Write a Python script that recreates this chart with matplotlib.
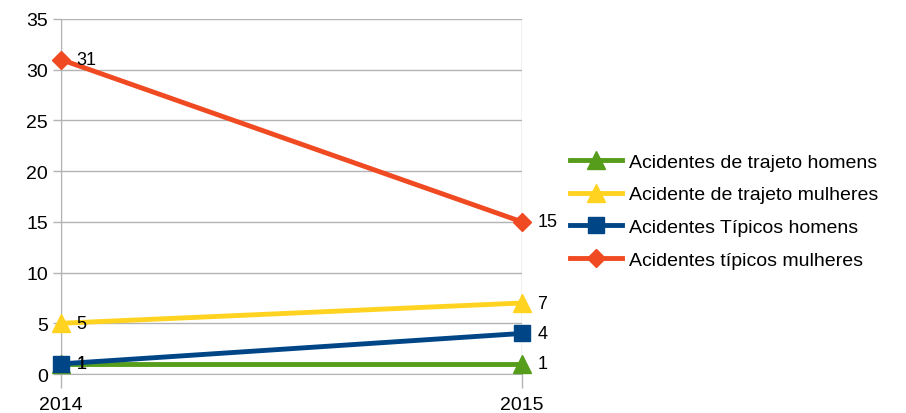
import matplotlib.pyplot as plt

years = ['2014', '2015']
trajeto_homens = [1, 1]
trajeto_mulheres = [5, 7]
tipicos_homens = [1, 4]
tipicos_mulheres = [31, 15]

series = [
    ('Acidentes de trajeto homens', trajeto_homens, '#579d1c', '^', 13),
    ('Acidente de trajeto mulheres', trajeto_mulheres, '#ffd320', '^', 13),
    ('Acidentes Típicos homens', tipicos_homens, '#004586', 's', 12),
    ('Acidentes típicos mulheres', tipicos_mulheres, '#f04a22', 'D', 9),
]

plt.rcParams['font.family'] = ['Liberation Sans', 'DejaVu Sans']

fig = plt.figure(figsize=(9.06, 4.14), dpi=100)
ax = fig.add_axes([0.0673, 0.0942, 0.5088, 0.8575])

x = list(range(len(years)))
for name, vals, col, mk, ms in series:
    ax.plot(x, vals, color=col, lw=3.5, marker=mk, markersize=ms, label=name,
            clip_on=False, zorder=3)
    for xi, v in zip(x, vals):
        ax.annotate(str(v), (xi, v), xytext=(11, 0), textcoords='offset points',
                    va='center', ha='left', fontsize=13, zorder=4)

ax.set_xlim(0, 1)
ax.set_ylim(0, 35)
ax.set_yticks(range(0, 36, 5))
ax.set_xticks(x)
ax.set_xticklabels(years)
ax.grid(True, color='#b3b3b3', lw=1)
ax.set_axisbelow(True)
for s in ['top', 'right']:
    ax.spines[s].set_visible(False)
for s in ['left', 'bottom']:
    ax.spines[s].set_color('#b3b3b3')
ax.tick_params(colors='#b3b3b3', labelcolor='black', labelsize=14, length=6, width=1)
ax.tick_params(axis='x', length=10, pad=6)

fig.legend(loc='center left', bbox_to_anchor=(0.614, 0.488), frameon=False,
           fontsize=14, handlelength=2.7, labelspacing=0.78, handletextpad=0.35,
           borderpad=0.2)

fig.savefig('out.png')
